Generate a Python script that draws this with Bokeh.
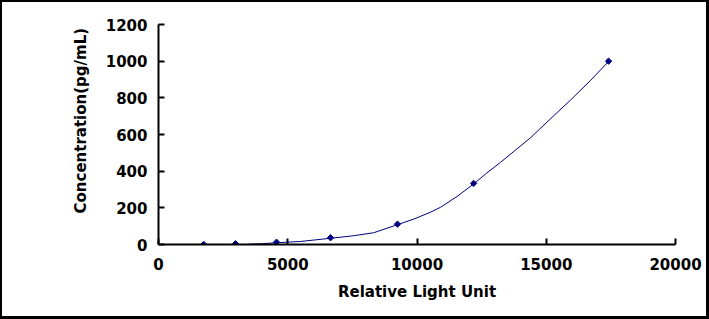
from bokeh.plotting import figure
from bokeh.models import Range1d, Title, FixedTicker, NumeralTickFormatter
from bokeh.embed import file_html
from bokeh.resources import INLINE
import math

# Standard points (Relative Light Unit, Concentration pg/mL)
rlu = [1750, 2980, 4565, 6655, 9245, 12190, 17410]
conc = [0, 4.12, 12.35, 37.04, 111.11, 333.33, 1000]

# Fitted curve
curve_x = [3480, 4000, 4565, 5490, 6655, 7500, 8320, 9245, 9900, 10520, 10910, 11550, 12190,
           12700, 13230, 13800, 14390, 15150, 15940, 16700, 17410]
curve_y = [1.6, 4.5, 9.5, 16.5, 34, 47, 64, 108, 140, 176, 203, 262, 330,
           390, 448, 514, 582, 684, 788, 893, 998]

x_ticks = [0, 5000, 10000, 15000, 20000]
y_ticks = [0, 200, 400, 600, 800, 1000, 1200]

FONT = "DejaVu Sans"
NAVY = "#000080"

p = figure(width=709, height=319, output_backend="svg", toolbar_location=None,
           x_range=Range1d(0, 20000), y_range=Range1d(0, 1200),
           min_border_left=156, min_border_right=36, min_border_top=22, min_border_bottom=77)
p.styles = {"border-style": "solid", "border-color": "black", "border-width": "2px 3px 3px 2px",
            "box-sizing": "border-box"}
p.background_fill_color = "white"
p.border_fill_color = "white"
p.outline_line_color = None
p.grid.visible = False

p.line(curve_x, curve_y, line_color=NAVY, line_width=1)
p.scatter(rlu, conc, marker="square", angle=math.pi / 4, size=4.5,
          fill_color=NAVY, line_color=NAVY, line_width=1)

for ax in (p.xaxis[0], p.yaxis[0]):
    ax.axis_line_width = 2
    ax.axis_line_color = "black"
    ax.major_tick_line_width = 2
    ax.major_tick_line_color = "black"
    ax.major_tick_in = 6
    ax.major_tick_out = 0
    ax.minor_tick_line_color = None
    ax.major_label_text_font = FONT
    ax.major_label_text_font_style = "bold"
    ax.major_label_text_font_size = "15px"
    ax.major_label_text_color = "black"
    ax.formatter = NumeralTickFormatter(format="0")

p.xaxis.ticker = FixedTicker(ticks=x_ticks)
p.yaxis.ticker = FixedTicker(ticks=y_ticks)
p.xaxis.major_label_standoff = 13
p.yaxis.major_label_standoff = 11

p.xaxis.axis_label = "Relative Light Unit"
p.xaxis.axis_label_text_font = FONT
p.xaxis.axis_label_text_font_style = "bold"
p.xaxis.axis_label_text_font_size = "15px"
p.xaxis.axis_label_text_color = "black"
p.xaxis.axis_label_standoff = 10

ytitle = Title(text="Concentration(pg/mL)", align="left", offset=31, standoff=26,
               text_font=FONT, text_font_style="bold", text_font_size="15px", text_color="black")
p.add_layout(ytitle, "left")

open("out.html", "w").write(file_html(p, INLINE))
